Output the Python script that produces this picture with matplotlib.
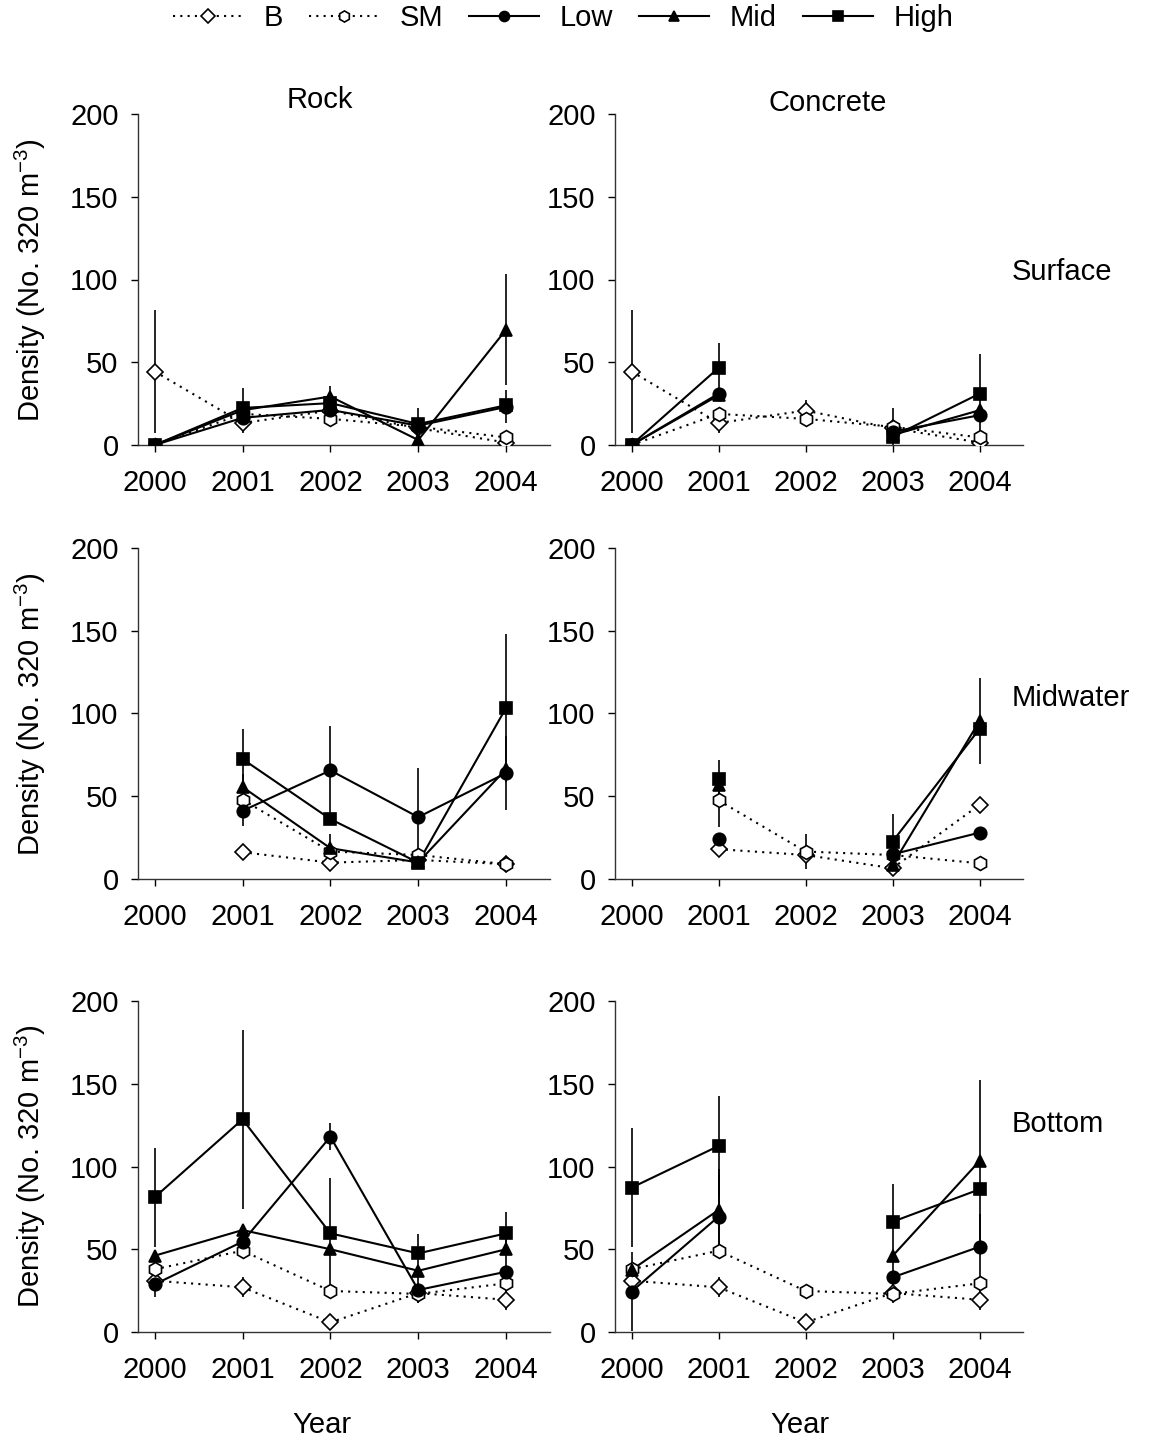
import numpy as np
import matplotlib
matplotlib.use("Agg")
from matplotlib import pyplot as plt
from matplotlib.lines import Line2D

plt.rcParams['font.family'] = ['Liberation Sans', 'DejaVu Sans']
plt.rcParams['mathtext.fontset'] = 'custom'
plt.rcParams['mathtext.rm'] = 'Liberation Sans'

nan = np.nan
years = [2000, 2001, 2002, 2003, 2004]

# reference series
surf_B = [44.4, 13.3, 20.8, 10.1, 1.5]
surf_SM = [0.0, 18.8, 15.8, 11.0, 4.6]
rock_mid_B = [nan, 16.2, 9.9, 11.5, 9.0]
rock_mid_SM = [nan, 47.9, 16.6, 14.5, 9.0]
conc_mid_B = [nan, 18.0, 14.5, 6.5, 44.8]
conc_mid_SM = [nan, 47.5, 16.6, 14.5, 9.5]
bot_B = [31.0, 27.0, 5.8, 23.5, 19.5]
bot_SM = [37.9, 49.1, 24.8, 23.0, 29.4]

surf_B_err = [37.4, 6.0, 6.2, 12.5, 0]
mid_SM_err = [0, 15.8, 10.4, 0, 0]
bot_B_err = [0, 6.0, 0, 6.0, 6.0]

# rock
rock_surf_low = [0.0, 16.4, 21.2, 11.7, 23.0]
rock_surf_mid = [0.0, 21.0, 29.3, 3.0, 69.7]
rock_surf_high = [0.0, 22.4, 25.3, 12.7, 24.0]
rock_mid_low = [nan, 41.2, 65.6, 37.4, 64.0]
rock_mid_mid = [nan, 55.6, 18.6, 10.0, 66.4]
rock_mid_high = [nan, 72.5, 36.2, 9.9, 103.4]
rock_bot_low = [28.8, 54.6, 118.0, 25.4, 36.4]
rock_bot_mid = [46.1, 61.6, 50.0, 37.0, 50.0]
rock_bot_high = [81.4, 128.5, 59.6, 47.5, 59.6]

# concrete
conc_surf_low = [0.0, 31.0, nan, 8.0, 18.0]
conc_surf_mid = [0.0, 30.0, nan, 6.0, 21.0]
conc_surf_high = [0.0, 46.6, nan, 5.0, 31.0]
conc_mid_low = [nan, 24.0, nan, 14.9, 28.0]
conc_mid_mid = [nan, 57.0, nan, 8.5, 95.4]
conc_mid_high = [nan, 60.4, nan, 22.6, 90.7]
conc_bot_low = [24.4, 69.7, nan, 33.0, 51.5]
conc_bot_mid = [37.5, 73.7, nan, 45.9, 103.3]
conc_bot_high = [87.2, 112.4, nan, 66.6, 86.2]

# error bars (SE) where visible
rock_surf_err = {'mid': [0, 0, 6.3, 0, 33.6], 'high': [0, 12.0, 0, 0, 0], 'low': [0, 0, 0, 0, 10.0]}
conc_surf_err = {'high': [0, 15.2, 0, 0, 24.0]}
rock_mid_err = {'high': [0, 18.2, 0, 0, 44.6], 'low': [0, 0, 26.7, 29.6, 22.6]}
conc_mid_err = {'high': [0, 11.6, 0, 16.4, 0], 'mid': [0, 0, 0, 0, 26.0]}
rock_bot_err = {'high': [30.0, 54.0, 33.6, 12.0, 13.0], 'low': [7.5, 0, 8.0, 8.0, 22.0]}
conc_bot_err = {'high': [36.0, 30.0, 0, 23.0, 0], 'mid': [0, 25.0, 0, 0, 49.0],
                'low': [24.0, 25.0, 0, 15.0, 20.0]}

panels = [
    (surf_B, surf_SM, surf_B_err, None, rock_surf_low, rock_surf_mid, rock_surf_high, rock_surf_err, 0, 0),
    (surf_B, surf_SM, surf_B_err, None, conc_surf_low, conc_surf_mid, conc_surf_high, conc_surf_err, 0, 1),
    (rock_mid_B, rock_mid_SM, None, mid_SM_err, rock_mid_low, rock_mid_mid, rock_mid_high, rock_mid_err, 1, 0),
    (conc_mid_B, conc_mid_SM, None, mid_SM_err, conc_mid_low, conc_mid_mid, conc_mid_high, conc_mid_err, 1, 1),
    (bot_B, bot_SM, bot_B_err, None, rock_bot_low, rock_bot_mid, rock_bot_high, rock_bot_err, 2, 0),
    (bot_B, bot_SM, bot_B_err, None, conc_bot_low, conc_bot_mid, conc_bot_high, conc_bot_err, 2, 1),
]

W, H = 1161, 1442
fig = plt.figure(figsize=(W / 100, H / 100), dpi=100)

col_x = [138 / W, 615 / W]
col_w = [412 / W, 408 / W]
row_bottom = [1 - 445 / H, 1 - 879 / H, 1 - 1332 / H]
row_h = 331 / H
FS = 21

dot = (0, (1, 2.5))
styles = {
    'B': dict(ls=dot, marker='D', mfc='white', ms=8.5),
    'SM': dict(ls=dot, marker='h', mfc='white', ms=10),
    'low': dict(ls='-', marker='o', mfc='black', ms=9),
    'mid': dict(ls='-', marker='^', mfc='black', ms=9),
    'high': dict(ls='-', marker='s', mfc='black', ms=9),
}
labels = {'B': 'B', 'SM': 'SM', 'low': 'Low', 'mid': 'Mid', 'high': 'High'}


def draw(ax, key, vals, err=None):
    x = np.array(years, dtype=float)
    y = np.array(vals, dtype=float)
    if err is not None:
        e = np.array(err, dtype=float)
        m = e > 0
        ax.errorbar(x[m], y[m], yerr=e[m], fmt='none', ecolor='black', elinewidth=1.2, capsize=0, zorder=1)
    st = styles[key]
    ok = ~np.isnan(y)
    # lines only join consecutive years (nan breaks them)
    ax.plot(x, y, ls=st['ls'], color='black', lw=1.5, zorder=2)
    ax.plot(x[ok], y[ok], ls='none', marker=st['marker'], mfc=st['mfc'], mec='black',
            ms=st['ms'], mew=1.2, zorder=3)


for B, SM, Berr, SMerr, low, mid, high, errs, r, c in panels:
    ax = fig.add_axes([col_x[c], row_bottom[r], col_w[c], row_h])
    draw(ax, 'B', B, Berr)
    draw(ax, 'SM', SM, SMerr)
    draw(ax, 'low', low, errs.get('low'))
    draw(ax, 'mid', mid, errs.get('mid'))
    draw(ax, 'high', high, errs.get('high'))
    ax.set_ylim(0, 200)
    ax.set_yticks([0, 50, 100, 150, 200])
    ax.set_xlim(1999.81, 2004.5)
    ax.set_xticks(years)
    ax.spines['top'].set_visible(False)
    ax.spines['right'].set_visible(False)
    for s in ['left', 'bottom']:
        ax.spines[s].set_linewidth(1.0)
        ax.spines[s].set_color('#333333')
    ax.tick_params(axis='both', direction='out', length=5, width=1.0, labelsize=FS, colors='black')
    ax.tick_params(axis='x', pad=12)
    ax.tick_params(axis='y', pad=9)
    ax.patch.set_alpha(0)

# column / row titles
fig.text(320 / W, 1 - 100 / H, 'Rock', fontsize=FS, ha='center', va='center')
fig.text(828 / W, 1 - 103 / H, 'Concrete', fontsize=FS, ha='center', va='center')
for lab, yy in [('Surface', 272), ('Midwater', 698), ('Bottom', 1124)]:
    fig.text(1012 / W, 1 - yy / H, lab, fontsize=FS, ha='left', va='center')

for yy in [280, 714, 1166]:
    fig.text(30 / W, 1 - yy / H, r'Density (No. 320 m$^{\mathregular{-3}}$)', fontsize=FS, rotation=90,
             ha='center', va='center')

fig.text(322 / W, 1 - 1425 / H, 'Year', fontsize=FS, ha='center', va='center')
fig.text(800 / W, 1 - 1425 / H, 'Year', fontsize=FS, ha='center', va='center')

# legend
handles = []
for k in ['B', 'SM', 'low', 'mid', 'high']:
    st = styles[k]
    handles.append(Line2D([], [], ls=st['ls'], color='black', lw=1.5, marker=st['marker'],
                          mfc=st['mfc'], mec='black', ms=st['ms'] * 0.8, mew=1.2, label=labels[k]))
fig.legend(handles=handles, loc='center', bbox_to_anchor=(0.485, 1 - 18 / H), ncol=5, frameon=False,
           fontsize=FS, handlelength=2.4, columnspacing=0.9, handletextpad=0.7)

fig.savefig('out.png', dpi=100)
